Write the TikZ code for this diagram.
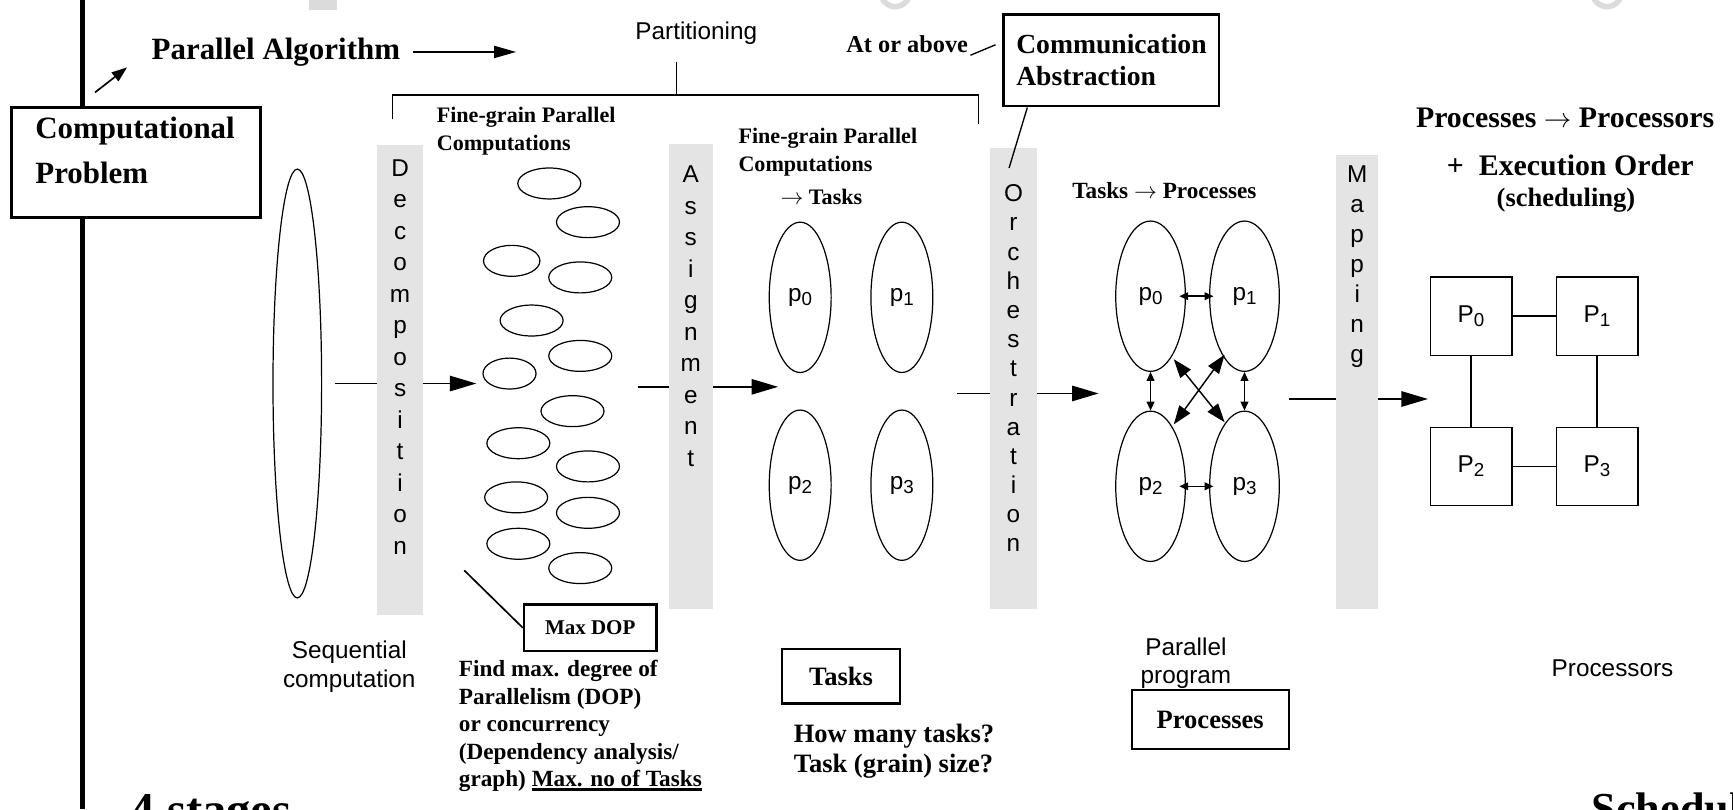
\documentclass[tikz,border=0pt]{standalone}
\usepackage{fontspec}
\setmainfont{Liberation Serif}
\setsansfont{Liberation Sans}
\usetikzlibrary{arrows.meta,positioning,shapes.geometric}

\definecolor{barfill}{RGB}{228,228,228}
\newcommand{\idx}[1]{\raisebox{-4pt}{\fontsize{17}{17}\selectfont #1}}
\newcommand{\thickul}[1]{\setbox0\hbox{#1}\rlap{\rule[-4pt]{\wd0}{3pt}}\box0}
\newcommand{\tto}{\ensuremath{\rightarrow}}

\tikzset{
    stagebar/.style={fill=barfill, anchor=north, minimum width=42pt, inner sep=0pt},
    letters/.style={font=\sffamily\fontsize{22}{28.5}\selectfont, align=center, inner sep=0pt},
    blob/.style={ellipse, draw, line width=1.1pt, minimum width=57pt, minimum height=28pt, inner sep=0pt},
    task/.style={ellipse, draw, line width=1.1pt, minimum width=56pt, minimum height=136pt, inner sep=0pt, font=\sffamily\fontsize{22}{22}\selectfont},
    proc/.style={task, minimum width=63pt},
    cpu/.style={draw, line width=1.2pt, minimum width=74pt, minimum height=71pt, inner sep=0pt, font=\sffamily\fontsize{22}{22}\selectfont},
    note/.style={font=\bfseries\fontsize{20}{25}\selectfont, align=left, inner sep=0pt},
    sanslbl/.style={font=\sffamily\fontsize{22}{26}\selectfont, align=center, inner sep=0pt},
    tag/.style={draw, line width=2pt, fill=white, inner sep=0pt, font=\bfseries\fontsize{24}{24}\selectfont},
    flow/.style={-{Triangle[length=24pt,width=14pt]}, line width=1.2pt},
    link/.style={{Triangle[length=8pt,width=7pt]}-{Triangle[length=8pt,width=7pt]}, line width=1.3pt},
    xlink/.style={{Triangle[length=17pt,width=12pt]}-{Triangle[length=17pt,width=12pt]}, line width=1.3pt},
    ghost/.style={black!14, line width=5pt},
}

\begin{document}
\begin{tikzpicture}[x=1pt, y=-1pt]
\useasboundingbox (0,0) rectangle (1568,732);
\clip (0,0) rectangle (1568,732);

% remains of the slide title
\fill[black!14] (280,0) rectangle (305,9);
\draw[ghost] (810,-7) circle [radius=13];
\draw[ghost] (1454,-7) circle [radius=13];

% left rule and the problem
\draw[line width=4.5pt] (75,0) -- (75,732);
\node[tag, line width=2.8pt, font=\bfseries\fontsize{28}{40}\selectfont, align=left, text width=182pt, inner xsep=22pt, minimum height=100pt, text depth=62pt] (cp) at (123,147) {Computational\\Problem};
\node[note, font=\bfseries\fontsize{28}{28}\selectfont, anchor=west] (alg) at (137,47) {Parallel Algorithm};
\coordinate (algend) at (467,47);
\draw[-{Triangle[length=20pt,width=11pt]}, line width=1.5pt] ([shift={(12,0)}]alg.east) -- (algend);
\draw[-{Triangle[length=14pt,width=10pt]}, line width=1.5pt] ([shift={(-37,-12)}]cp.north) -- ([shift={(-22,14)}]alg.west);

% partitioning bracket
\node[sanslbl] (part) at (630,30) {Partitioning};
\draw[line width=1.1pt] (612,56) -- (612,86);
\draw[line width=1.1pt] (355,108) -- (355,86) -- (885,86) -- (885,112);

% sequential computation and fine-grain computations
\node[blob, minimum width=44pt, minimum height=388pt] (seq) at (269,347) {};
\foreach \n/\x/\y/\w in {1/497/166/57, 2/532/201/57, 3/463/236/51, 4/525/251/57,
    5/481/290/57, 6/525/322/57, 7/461/338/48, 8/518/372/57, 9/469/401/57,
    10/532/422/57, 11/467/450/57, 12/532/464/57, 13/469/492/57, 14/525/514/57}
    \node[blob, minimum width=\w pt] (b\n) at (\x,\y) {};

% tasks
\node[task] (t0) at (724,269) {p\idx{0}};
\node[task] (t1) at (816,269) {p\idx{1}};
\node[task] (t2) at (724,439) {p\idx{2}};
\node[task] (t3) at (816,439) {p\idx{3}};

% processes
\node[proc] (q0) at (1041,268) {p\idx{0}};
\node[proc] (q1) at (1126,268) {p\idx{1}};
\node[proc] (q2) at (1041,440) {p\idx{2}};
\node[proc] (q3) at (1126,440) {p\idx{3}};
\draw[link] ([shift={(-6,0)}]q0.east) -- ([shift={(4,0)}]q1.west);
\draw[link] ([shift={(-6,0)}]q2.east) -- ([shift={(4,0)}]q3.west);
\draw[link] (q0.south) -- (q2.north);
\draw[link] (q1.south) -- (q3.north);
\draw[xlink] ([shift={(21,57)}]q0.center) -- ([shift={(-18,-58)}]q3.center);
\draw[xlink] ([shift={(-18,53)}]q1.center) -- ([shift={(21,-56)}]q2.center);

% processors
\node[cpu] (P0) at (1331,286) {P\idx{0}};
\node[cpu] (P1) at (1445,286) {P\idx{1}};
\node[cpu] (P2) at (1331,422) {P\idx{2}};
\node[cpu] (P3) at (1445,422) {P\idx{3}};
\draw[line width=1.2pt] (P0) -- (P1);
\draw[line width=1.2pt] (P2) -- (P3);
\draw[line width=1.2pt] (P0) -- (P2);
\draw[line width=1.2pt] (P1) -- (P3);

% stage arrows
\coordinate (decin) at (431,347);
\coordinate (asgout) at (577,350);
\coordinate (asgin) at (704,350);
\coordinate (orcout) at (866,356);
\coordinate (orcin) at (994,356);
\coordinate (mapout) at (1166,361);
\coordinate (mapin) at (1292,361);
\draw[flow] ([shift={(12,0)}]seq.east) -- (decin);
\draw[flow] (asgout) -- (asgin);
\draw[flow] (orcout) -- (orcin);
\draw[flow] (mapout) -- (mapin);

% the four stages
\node[stagebar, minimum height=425pt] (dec) at (362,131) {};
\node[stagebar, minimum height=421pt, minimum width=40pt] (asg) at (625,130) {};
\node[stagebar, minimum height=417pt] (orc) at (917,134) {};
\node[stagebar, minimum height=411pt, minimum width=38pt] (map) at (1228,140) {};
\node[letters, below=13pt of dec.north] {D\\e\\c\\o\\m\\p\\o\\s\\i\\t\\i\\o\\n};
\node[letters, below=20pt of asg.north] {A\\s\\s\\i\\g\\n\\m\\e\\n\\t};
\node[letters, below=33pt of orc.north, font=\sffamily\fontsize{22}{26.4}\selectfont] {O\\r\\c\\h\\e\\s\\t\\r\\a\\t\\i\\o\\n};
\node[letters, below=10pt of map.north, font=\sffamily\fontsize{22}{27.1}\selectfont] {M\\a\\p\\p\\i\\n\\g};

% communication abstraction
\node[note, font=\bfseries\fontsize{22}{22}\selectfont, anchor=east] (above) at (876,40) {At or above};
\node[tag, line width=2.5pt, font=\bfseries\fontsize{25}{29}\selectfont, align=left, text width=172pt, inner xsep=11.5pt, minimum height=83pt] (comm) at (1005.5,54.5) {Communication\\Abstraction};
\draw[line width=1.2pt] ([shift={(2,10)}]above.east) -- ([shift={(-6,-14)}]comm.west);
\draw[line width=1.2pt] ([shift={(-76,0)}]comm.south) -- ([shift={(-4,18)}]orc.north);

% max DOP
\coordinate (dopfrom) at (420,516);
\node[tag, font=\bfseries\fontsize{19}{19}\selectfont, minimum width=120pt, minimum height=42pt] (maxdop) at (534,568) {Max DOP};
\draw[line width=1.5pt] (dopfrom) -- (maxdop.west);

% labels
\node[note, anchor=north west] (fg1) at (395,97) {Fine-grain Parallel\\Computations};
\node[note, anchor=north west] (fg2) at (668,116) {Fine-grain Parallel\\Computations\\[5pt]\hspace*{38pt}\tto\ Tasks};
\node[note, font=\bfseries\fontsize{21}{21}\selectfont, anchor=west] (t2p) at (970,172) {Tasks \tto\ Processes};
\node[note, font=\bfseries\fontsize{27}{27}\selectfont, anchor=west] (p2p) at (1281,107) {Processes \tto\ Processors};
\node[note, font=\bfseries\fontsize{27}{27}\selectfont, anchor=west] (exec) at (1309,150) {+\ \ Execution Order};
\node[note, font=\bfseries\fontsize{24}{24}\selectfont, anchor=west] (schedlbl) at (1354,181) {(scheduling)};

\node[sanslbl] (seqlbl) at (316,603) {Sequential\\computation};
\node[note, font=\bfseries\fontsize{21}{25}\selectfont, anchor=north west] (findtxt) at (415,597) {Find max. degree of\\Parallelism (DOP)\\or concurrency\\(Dependency analysis/\\graph) \thickul{Max. no of Tasks}};
\node[tag, minimum width=107pt, minimum height=49pt] (tasksbox) at (761,612) {Tasks};
\node[note, font=\bfseries\fontsize{24}{27}\selectfont, anchor=north west] (howmany) at (718,655) {How many tasks?\\Task (grain) size?};
\node[tag, minimum width=142pt, minimum height=54pt] (procbox) at (1095,651) {Processes};
\node[sanslbl] (parprog) at (1073,600) {Parallel\\program};
\node[sanslbl] (cpulbl) at (1459,605) {Processors};
\node[note, font=\bfseries\fontsize{44}{44}\selectfont, anchor=north west] (stages) at (118,719) {4 stages};
\node[note, font=\bfseries\fontsize{40}{40}\selectfont, anchor=north west] (sched) at (1440,717) {Scheduling};
\end{tikzpicture}
\end{document}
